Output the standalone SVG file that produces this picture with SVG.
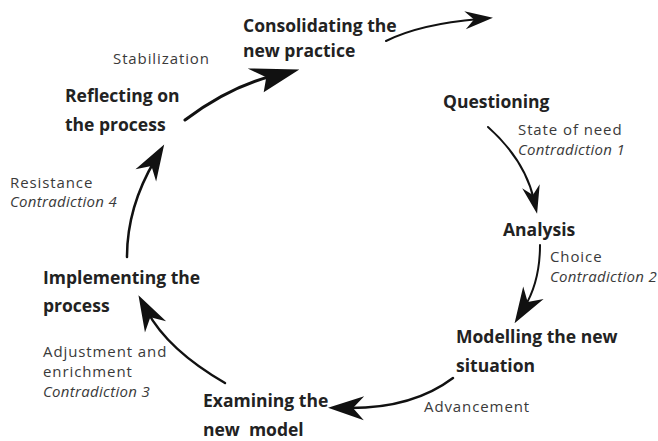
<svg xmlns="http://www.w3.org/2000/svg" width="658" height="441" viewBox="0 0 658 441">
<style>
.n{font-family:"Open Sans","Liberation Sans",sans-serif;font-weight:bold;font-size:17.5px;fill:#222}
.l{font-family:"Open Sans","Liberation Sans",sans-serif;font-size:15px;letter-spacing:0.9px;fill:#3a3a3a}
.i{font-style:italic;letter-spacing:0.3px}
.c{fill:none;stroke:#111;stroke-linecap:round}
</style>
<defs>
<marker id="hb" markerUnits="userSpaceOnUse" markerWidth="60" markerHeight="40" viewBox="-50 -20 60 40" refX="-24" refY="0" orient="auto" overflow="visible"><path d="M0,0 L-50,-13 L-34,0 L-40,14 Z" fill="#111"/></marker>
<marker id="hm" markerUnits="userSpaceOnUse" markerWidth="50" markerHeight="30" viewBox="-40 -15 50 30" refX="-18" refY="0" orient="auto" overflow="visible"><path d="M0,0 L-36,-12 L-25,0 L-36,12 Z" fill="#111"/></marker>
<marker id="hs" markerUnits="userSpaceOnUse" markerWidth="40" markerHeight="30" viewBox="-30 -15 40 30" refX="-14" refY="0" orient="auto" overflow="visible"><path d="M0,0 L-28,-9 L-19,0 L-28,9 Z" fill="#111"/></marker>
</defs>
<g id="connectors">
<path class="c" stroke-width="2" d="M386,41 Q420,24 479,19" marker-end="url(#hs)"/>
<path class="c" stroke-width="3" d="M185,120 Q230,86 276,75" marker-end="url(#hb)"/>
<path class="c" stroke-width="2" d="M488,127 Q525,160 534,200" marker-end="url(#hs)"/>
<path class="c" stroke-width="2" d="M540,245 Q540,282 524,308" marker-end="url(#hm)"/>
<path class="c" stroke-width="2.5" d="M453,378 Q412,409 346,408" marker-end="url(#hm)"/>
<path class="c" stroke-width="2.5" d="M225,383 Q168,350 147,311" marker-end="url(#hm)"/>
<path class="c" stroke-width="2.5" d="M127,257 C127,222 136,192 155,160" marker-end="url(#hm)"/>
</g>
<g id="consolidating"><text class="n" x="243" y="32">Consolidating the</text><text class="n" x="243" y="57">new practice</text></g>
<g id="stabilization"><text class="l" x="113" y="64">Stabilization</text></g>
<g id="reflecting"><text class="n" x="65" y="102">Reflecting on</text><text class="n" x="65" y="131">the process</text></g>
<g id="questioning"><text class="n" x="443" y="108">Questioning</text></g>
<g id="state-of-need"><text class="l" x="518" y="135">State of need</text><text class="l i" x="518" y="155">Contradiction 1</text></g>
<g id="analysis"><text class="n" x="503" y="236">Analysis</text></g>
<g id="choice"><text class="l" x="550" y="262">Choice</text><text class="l i" x="550" y="282">Contradiction 2</text></g>
<g id="modelling"><text class="n" x="456" y="343">Modelling the new</text><text class="n" x="456" y="372">situation</text></g>
<g id="advancement"><text class="l" x="424" y="412">Advancement</text></g>
<g id="examining"><text class="n" x="203" y="407">Examining the</text><text class="n" x="203" y="436" style="white-space:pre">new  model</text></g>
<g id="implementing"><text class="n" x="43" y="284">Implementing the</text><text class="n" x="43" y="312">process</text></g>
<g id="adjustment"><text class="l" x="43" y="357">Adjustment and</text><text class="l" x="43" y="377">enrichment</text><text class="l i" x="43" y="397">Contradiction 3</text></g>
<g id="resistance"><text class="l" x="10" y="188">Resistance</text><text class="l i" x="10" y="207">Contradiction 4</text></g>
</svg>
